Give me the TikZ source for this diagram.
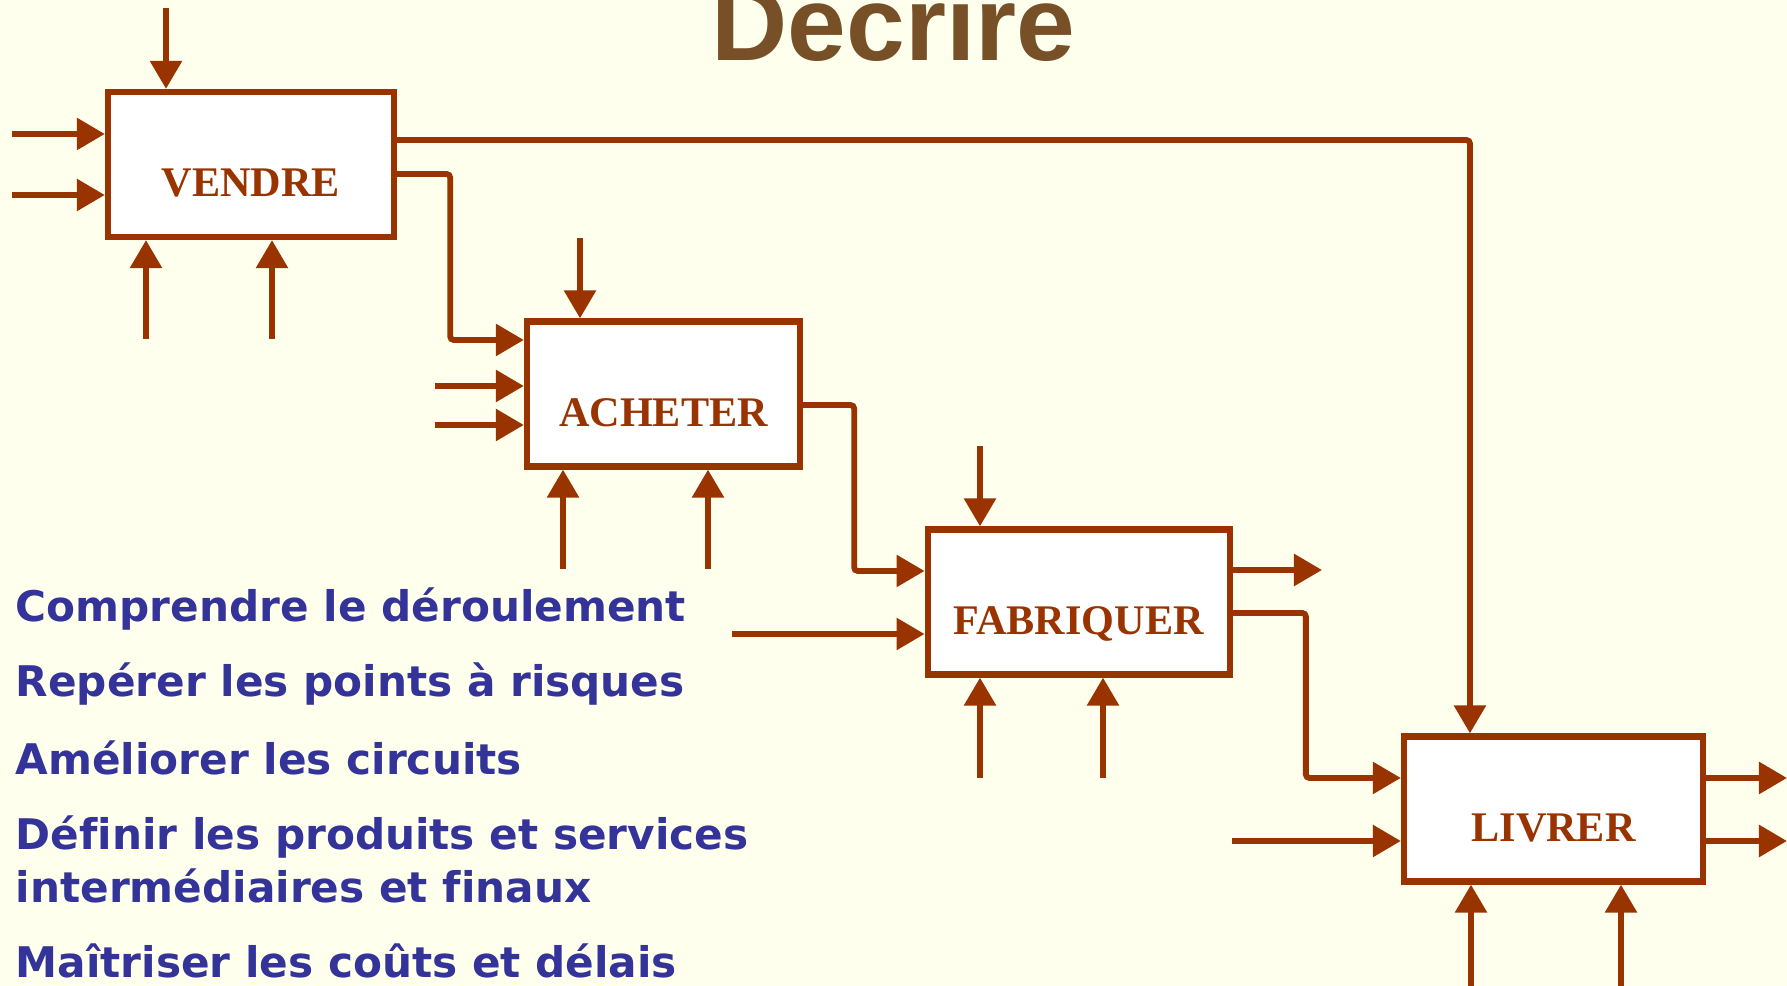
\documentclass[tikz,border=0pt]{standalone}
\usepackage{fontspec}
\setmainfont{Liberation Serif}
\newfontfamily\titlefont{Liberation Sans}
\newfontfamily\goalfont[Ligatures=NoCommon]{DejaVu Sans}
\usepackage{xcolor}
\definecolor{idefRust}{HTML}{993300}
\definecolor{idefNavy}{HTML}{333399}
\definecolor{idefBrown}{HTML}{775028}
\definecolor{idefCream}{HTML}{FFFFEE}
\usepackage{tikz}
\usetikzlibrary{arrows.meta,calc,positioning}

\begin{document}
\begin{tikzpicture}[x=0.01cm,y=-0.01cm,>={Triangle[length=0.28cm,width=0.31cm]},
  act/.style={draw=idefRust,fill=white,text=idefRust,line width=1.75pt,inner sep=0pt,
    minimum height=1.45cm,text height=0.64cm,text depth=0pt,
    font=\bfseries\fontsize{12}{14}\selectfont},
  flow/.style={->,idefRust,line width=1.65pt,rounded corners=1pt},
  goal/.style={anchor=base west,inner sep=0pt,text=idefNavy,
    font=\goalfont\bfseries\fontsize{12}{14.8}\selectfont}]
  \fill[idefCream] (0,0) rectangle (1787,986);
  \path[use as bounding box] (0,0) rectangle (1787,986);

  \node[anchor=base west,inner sep=0pt,text=idefBrown,font=\titlefont\bfseries\fontsize{30}{36}\selectfont] (title) at (711,61) {Decrire};

  % activity boxes
  \node[act,minimum width=2.86cm] (vendre) at (251,164.5) {VENDRE};
  \node[act,minimum width=2.73cm] (acheter) at (663.5,394) {ACHETER};
  \node[act,minimum width=3.02cm] (fabriquer) at (1078.7,602) {FABRIQUER};
  \node[act,minimum width=2.99cm] (livrer) at (1553.5,809) {LIVRER};

  % free ends
  \coordinate (vc) at (166,8);
  \coordinate (vi1) at (12,134);
  \coordinate (vi2) at (12,195);
  \coordinate (vm1) at (146,339);
  \coordinate (vm2) at (272,339);
  \coordinate (ac) at (580,238);
  \coordinate (ai1) at (435,386);
  \coordinate (ai2) at (435,425);
  \coordinate (am1) at (563,569);
  \coordinate (am2) at (708,569);
  \coordinate (fc) at (980,446);
  \coordinate (fi) at (732,634);
  \coordinate (fm1) at (980,778);
  \coordinate (fm2) at (1103,778);
  \coordinate (fo) at (1322,570);
  \coordinate (li) at (1232,841);
  \coordinate (lm1) at (1471,986);
  \coordinate (lm2) at (1621,986);
  \coordinate (lo1) at (1787,778);
  \coordinate (lo2) at (1787,841);

  % VENDRE
  \draw[flow] (vc) -- (vc |- vendre.north);
  \draw[flow] (vi1) -- (vi1 -| vendre.west);
  \draw[flow] (vi2) -- (vi2 -| vendre.west);
  \draw[flow] (vm1) -- (vm1 |- vendre.south);
  \draw[flow] (vm2) -- (vm2 |- vendre.south);
  \draw[flow] ([yshift=0.245cm]vendre.east) -| ([xshift=-0.835cm]livrer.north);
  \draw[flow] ([yshift=-0.095cm]vendre.east) -- ++(53,0) |- ([yshift=0.54cm]acheter.west);

  % ACHETER
  \draw[flow] (ac) -- (ac |- acheter.north);
  \draw[flow] (ai1) -- (ai1 -| acheter.west);
  \draw[flow] (ai2) -- (ai2 -| acheter.west);
  \draw[flow] (am1) -- (am1 |- acheter.south);
  \draw[flow] (am2) -- (am2 |- acheter.south);
  \draw[flow] ([yshift=-0.11cm]acheter.east) -- ++(51,0) |- ([yshift=0.31cm]fabriquer.west);

  % FABRIQUER
  \draw[flow] (fc) -- (fc |- fabriquer.north);
  \draw[flow] (fi) -- (fi -| fabriquer.west);
  \draw[flow] (fm1) -- (fm1 |- fabriquer.south);
  \draw[flow] (fm2) -- (fm2 |- fabriquer.south);
  \draw[flow] (fo -| fabriquer.east) -- (fo);
  \draw[flow] ([yshift=-0.11cm]fabriquer.east) -- ++(73,0) |- ([yshift=0.31cm]livrer.west);

  % LIVRER
  \draw[flow] (li) -- (li -| livrer.west);
  \draw[flow] (lm1) -- (lm1 |- livrer.south);
  \draw[flow] (lm2) -- (lm2 |- livrer.south);
  \draw[flow] (lo1 -| livrer.east) -- (lo1);
  \draw[flow] (lo2 -| livrer.east) -- (lo2);

  % goals
  \node[goal] (g1) at (15,622) {Comprendre le déroulement};
  \node[goal] (g2) at (15,697) {Repérer les points à risques};
  \node[goal] (g3) at (15,775) {Améliorer les circuits};
  \node[goal] (g4) at (15,850) {\vtop{\hbox{Définir les produits et services}\hbox{intermédiaires et finaux}}};
  \node[goal] (g5) at (15,978) {Maîtriser les coûts et délais};
\end{tikzpicture}
\end{document}
